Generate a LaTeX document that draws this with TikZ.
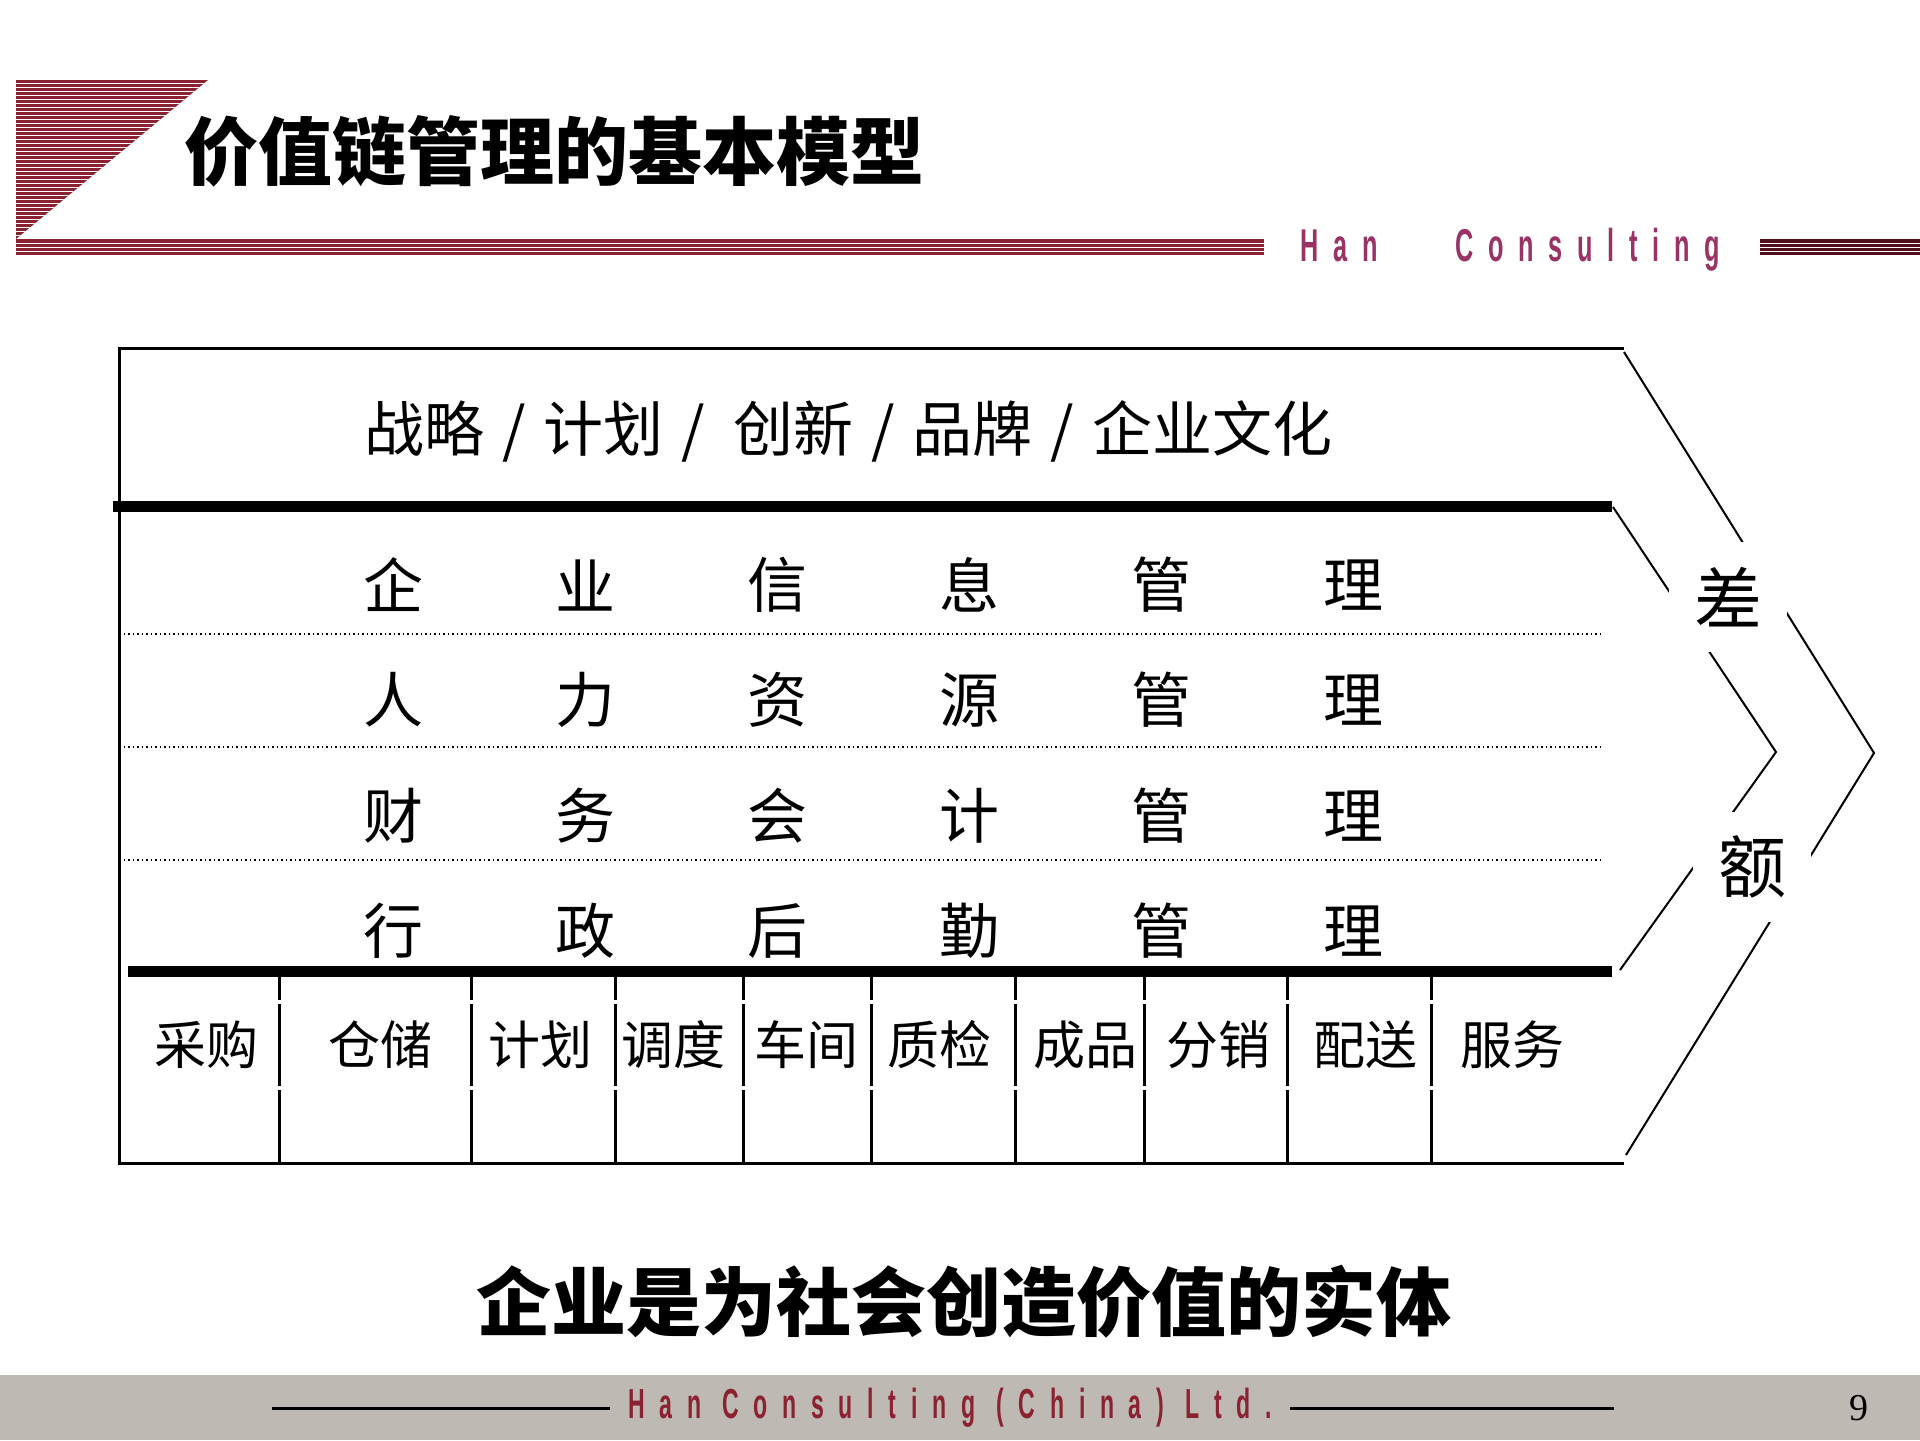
\documentclass[tikz,border=0pt]{standalone}
\usepackage{fontspec}
\setmainfont{Liberation Serif}
\newfontfamily\cjk{Noto Sans CJK SC}
\newfontfamily\hanfont[FakeStretch=0.55,LetterSpace=32]{Liberation Sans}
\newfontfamily\footfont[FakeStretch=0.55,LetterSpace=35]{Liberation Sans}

\definecolor{stripered}{RGB}{139,34,50}
\definecolor{stripedark}{RGB}{80,16,26}
\definecolor{hanpurple}{RGB}{153,51,102}
\definecolor{footgray}{RGB}{190,185,178}

\newcommand{\slsep}{\hspace{9pt}/\hspace{9pt}}

\tikzset{
	rowchar/.style={font=\cjk\fontsize{30}{30}\selectfont, inner sep=0pt},
	celltext/.style={font=\cjk\fontsize{26}{26}\selectfont, inner sep=0pt},
	sidechar/.style={font=\cjk\fontsize{34}{34}\selectfont, fill=white, inner sep=0pt, minimum width=59pt, minimum height=55pt},
	frame/.style={line width=1.5pt},
	thickbar/.style={line width=5.5pt},
	dotline/.style={line width=0.75pt, dash pattern=on 0.75pt off 1.5pt},
	chev/.style={line width=1pt},
}

\begin{document}
\begin{tikzpicture}[x=0.5pt,y=-0.5pt]
	\useasboundingbox (0,0) rectangle (1920,1440);
	
	\begin{scope}
		\clip (16,80) -- (208,80) -- (16,239) -- cycle;
		\fill[stripered] (16,80) rectangle (208,239);
		\foreach \y in {83,87,...,235}
			\draw[white, line width=0.5pt] (16,\y) -- (208,\y);
	\end{scope}
	
	\fill[stripered] (16,239) rectangle (1264,255);
	\fill[stripedark] (1760,239) rectangle (1920,255);
	\foreach \y in {243,247,251}
		\draw[white, line width=0.5pt] (16,\y) -- (1264,\y) (1760,\y) -- (1920,\y);
	
	\node[anchor=west, inner sep=0pt, font=\cjk\bfseries\fontsize{37}{37}\selectfont] (title) at (184,151) {价值链管理的基本模型};
	\node[anchor=base west, inner sep=0pt, text=hanpurple, font=\hanfont\bfseries\fontsize{23}{23}\selectfont] (brand) at (1300,261) {Han\hspace{39pt}Consulting};
	
	\draw[frame] (1624,348) -- (119,348) -- (119,1163) -- (1624,1163);
	\draw[thickbar] (113,506) -- (1612,506);
	\draw[thickbar] (128,971) -- (1612,971);
	\foreach \y in {634,747,860}
		\draw[dotline] (119,\y) -- (1601,\y);
	\foreach \x in {279,471,615,743,871,1015,1144,1287,1431}
		\draw[frame] (\x,975) -- (\x,1000) (\x,1004) -- (\x,1086) (\x,1090) -- (\x,1163);
	
	\node[rowchar, anchor=west] (strategy) at (364,431) {战略\slsep 计划\slsep\hspace{5pt}创新\slsep 品牌\slsep 企业文化};
	
	\foreach \c [count=\i] in {企,业,信,息,管,理}
		\node[rowchar] (info\i) at ({393+192*(\i-1)},585) {\c};
	\foreach \c [count=\i] in {人,力,资,源,管,理}
		\node[rowchar] (hr\i) at ({393+192*(\i-1)},700) {\c};
	\foreach \c [count=\i] in {财,务,会,计,管,理}
		\node[rowchar] (fin\i) at ({393+192*(\i-1)},816) {\c};
	\foreach \c [count=\i] in {行,政,后,勤,管,理}
		\node[rowchar] (adm\i) at ({393+192*(\i-1)},931) {\c};
	
	\foreach \t/\x [count=\i] in {采购/206,仓储/380,计划/540,调度/673,车间/806,质检/939,成品/1085,分销/1218,配送/1365,服务/1512}
		\node[celltext] (cell\i) at (\x,1045) {\t};
	
	\coordinate (outtop) at (1624,352);
	\coordinate (outtip) at (1874,753);
	\coordinate (outbot) at (1626,1155);
	\coordinate (intop) at (1613,507);
	\coordinate (intip) at (1776,752);
	\coordinate (inbot) at (1620,970);
	\draw[chev] (outtop) -- (outtip) -- (outbot);
	\draw[chev] (intop) -- (intip) -- (inbot);
	\node[sidechar] (cha) at (1728,597) {差};
	\node[sidechar] (e) at (1752,867) {额};
	
	\node[font=\cjk\bfseries\fontsize{37.5}{37.5}\selectfont, inner sep=0pt] (motto) at (964,1302) {企业是为社会创造价值的实体};
	
	\fill[footgray] (0,1375) rectangle (1920,1440);
	\node[inner sep=9pt, text=stripered, font=\footfont\bfseries\fontsize{21}{21}\selectfont] (foot) at (950,1408) {Han Consulting (China) Ltd.};
	\coordinate (footl) at (272,1408);
	\coordinate (footr) at (1614,1408);
	\draw[line width=1.5pt] (footl) -- (foot.west);
	\draw[line width=1.5pt] (foot.east) -- (footr);
	\node[font=\fontsize{19}{19}\selectfont, inner sep=0pt] (pagenum) at (1859,1408) {9};
\end{tikzpicture}
\end{document}
